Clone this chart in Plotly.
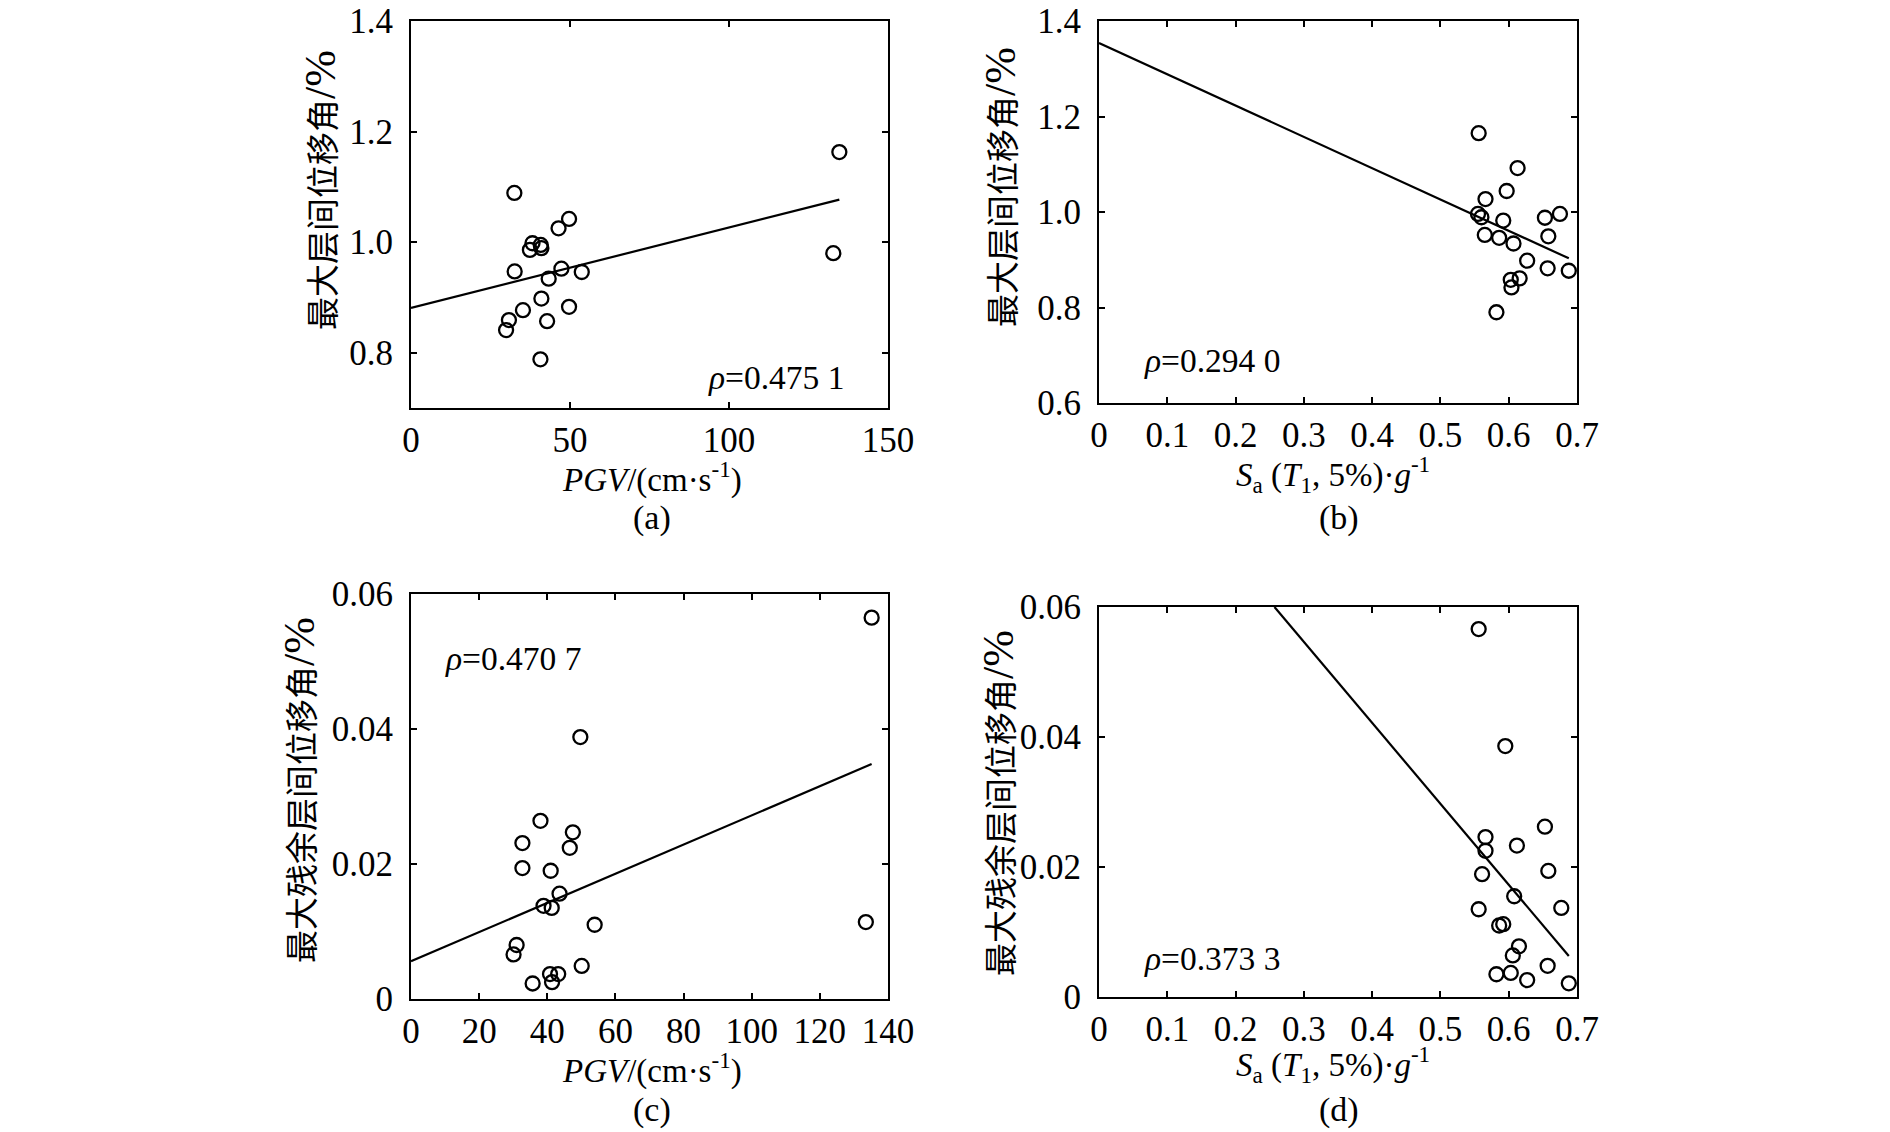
import plotly.graph_objects as go

W, H = 1890, 1132

# ---------------- data ----------------
pgv_a = [32.5, 134.7, 132.8, 49.7, 46.4, 38.2, 37.4, 40.8, 41.0, 32.6,
         47.3, 53.7, 43.3, 41.0, 35.2, 49.7, 30.8, 29.9, 42.8, 40.7]
idr_a = [1.089, 1.163, 0.980, 1.042, 1.025, 0.998, 0.986, 0.995, 0.989, 0.947,
         0.952, 0.946, 0.934, 0.898, 0.877, 0.883, 0.859, 0.841, 0.857, 0.788]
fit_a_x = [0, 134.7]
fit_a_y = [0.881, 1.077]

sa_b = [0.556, 0.613, 0.597, 0.566, 0.555, 0.560, 0.592, 0.653, 0.675, 0.565,
        0.586, 0.607, 0.658, 0.627, 0.657, 0.688, 0.603, 0.616, 0.604, 0.582]
idr_b = [1.165, 1.092, 1.044, 1.027, 0.996, 0.989, 0.982, 0.988, 0.996, 0.952,
         0.946, 0.934, 0.949, 0.898, 0.882, 0.877, 0.858, 0.861, 0.842, 0.790]
fit_b_x = [0, 0.688]
fit_b_y = [1.354, 0.903]

pgv_c = [135.2, 49.7, 38.0, 47.5, 32.7, 46.6, 32.7, 41.0, 43.6, 38.9,
         41.3, 53.9, 133.5, 31.0, 30.1, 50.1, 40.8, 43.2, 41.4, 35.7]
ridr_c = [0.0565, 0.0388, 0.0264, 0.0247, 0.0231, 0.0224, 0.0194, 0.0190, 0.0156, 0.0138,
          0.0135, 0.0110, 0.0114, 0.0080, 0.0066, 0.0049, 0.0037, 0.0037, 0.0025, 0.0023]
fit_c_x = [0, 135.2]
fit_c_y = [0.0056, 0.0348]

sa_d = [0.556, 0.595, 0.653, 0.566, 0.612, 0.566, 0.561, 0.658, 0.608, 0.556,
        0.677, 0.586, 0.592, 0.615, 0.606, 0.657, 0.582, 0.603, 0.627, 0.688]
ridr_d = [0.0566, 0.0386, 0.0262, 0.0246, 0.0233, 0.0225, 0.0189, 0.0194, 0.0155, 0.0135,
          0.0137, 0.0110, 0.0112, 0.0078, 0.0064, 0.0048, 0.0035, 0.0037, 0.0026, 0.0021]
fit_d_x = [0.257, 0.688]
fit_d_y = [0.060, 0.0063]

rho_labels = ["0.475 1", "0.294 0", "0.470 7", "0.373 3"]

pgv_ticks_a = [0, 50, 100, 150]
pgv_ticks_c = [0, 20, 40, 60, 80, 100, 120, 140]
sa_ticks = [0, 0.1, 0.2, 0.3, 0.4, 0.5, 0.6, 0.7]
sa_ticktext = ["0", "0.1", "0.2", "0.3", "0.4", "0.5", "0.6", "0.7"]
idr_ticks_a = [0.8, 1.0, 1.2, 1.4]
idr_ticktext_a = ["0.8", "1.0", "1.2", "1.4"]
idr_ticks_b = [0.6, 0.8, 1.0, 1.2, 1.4]
idr_ticktext_b = ["0.6", "0.8", "1.0", "1.2", "1.4"]
ridr_ticks = [0, 0.02, 0.04, 0.06]
ridr_ticktext = ["0", "0.02", "0.04", "0.06"]

ytitle_ab = "最大层间位移角<span style='font-size:44px'>/%</span>"
ytitle_cd = "最大残余层间位移角<span style='font-size:44px'>/%</span>"
xtitle_pgv = "<i>PGV</i>/(cm·s<sup>-1</sup>)"
xtitle_sa = "<i>S</i><sub>a</sub> (<i>T</i><sub>1</sub>, 5%)·<i>g</i><sup>-1</sup>"
panel_labels = ["(a)", "(b)", "(c)", "(d)"]

# ---------------- figure ----------------
FONT = "Liberation Serif"
CJK = "Liberation Serif, Noto Sans CJK SC"
FS = 35


def px(x):
    return x / W


def py(y):
    return 1 - y / H


fig = go.Figure()

panels = [
    dict(xa="x", ya="y", xs=pgv_a, ys=idr_a, fx=fit_a_x, fy=fit_a_y),
    dict(xa="x2", ya="y2", xs=sa_b, ys=idr_b, fx=fit_b_x, fy=fit_b_y),
    dict(xa="x3", ya="y3", xs=pgv_c, ys=ridr_c, fx=fit_c_x, fy=fit_c_y),
    dict(xa="x4", ya="y4", xs=sa_d, ys=ridr_d, fx=fit_d_x, fy=fit_d_y),
]
for p in panels:
    fig.add_trace(go.Scatter(x=p["fx"], y=p["fy"], mode="lines", xaxis=p["xa"], yaxis=p["ya"],
                             line=dict(color="black", width=2.2), showlegend=False, hoverinfo="skip"))
    fig.add_trace(go.Scatter(x=p["xs"], y=p["ys"], mode="markers", xaxis=p["xa"], yaxis=p["ya"],
                             marker=dict(symbol="circle-open", size=14, color="black",
                                         line=dict(width=2.3, color="black")),
                             showlegend=False, cliponaxis=False))

common = dict(showline=True, linecolor="black", linewidth=2, mirror="ticks", ticks="inside",
              ticklen=6, tickwidth=1.6, tickcolor="black", showgrid=False, zeroline=False,
              automargin=False,
              tickfont=dict(family=FONT, size=FS, color="black"))
XSO = 0
YSO = 9

# domains (pixel based)
xa_dom = [px(411), px(888)]
xb_dom = [px(1099), px(1577)]
ya_dom = [py(408), py(21)]
yb_dom = [py(403), py(21)]
yc_dom = [py(999), py(594)]
yd_dom = [py(997), py(607)]

fig.update_layout(
    template="none",
    width=W, height=H,
    margin=dict(l=0, r=0, t=0, b=0, autoexpand=False),
    paper_bgcolor="white", plot_bgcolor="white",
    font=dict(family=FONT, size=FS, color="black"),
    xaxis=dict(domain=xa_dom, range=[0, 150], tickvals=pgv_ticks_a, anchor="y",
               ticklabelstandoff=XSO, **common),
    yaxis=dict(domain=ya_dom, range=[0.7, 1.4], tickvals=idr_ticks_a, ticktext=idr_ticktext_a,
               anchor="x", ticklabelstandoff=YSO, **common),
    xaxis2=dict(domain=xb_dom, range=[0, 0.7], tickvals=sa_ticks, ticktext=sa_ticktext, anchor="y2",
                ticklabelstandoff=XSO, **common),
    yaxis2=dict(domain=yb_dom, range=[0.6, 1.4], tickvals=idr_ticks_b, ticktext=idr_ticktext_b,
                anchor="x2", ticklabelstandoff=YSO, **common),
    xaxis3=dict(domain=xa_dom, range=[0, 140], tickvals=pgv_ticks_c, anchor="y3",
                ticklabelstandoff=XSO, **common),
    yaxis3=dict(domain=yc_dom, range=[0, 0.06], tickvals=ridr_ticks, ticktext=ridr_ticktext,
                anchor="x3", ticklabelstandoff=YSO, **common),
    xaxis4=dict(domain=xb_dom, range=[0, 0.7], tickvals=sa_ticks, ticktext=sa_ticktext, anchor="y4",
                ticklabelstandoff=XSO, **common),
    yaxis4=dict(domain=yd_dom, range=[0, 0.06], tickvals=ridr_ticks, ticktext=ridr_ticktext,
                anchor="x4", ticklabelstandoff=YSO, **common),
)

anns = []


def txt(x, y, text, angle=0, size=FS, xanchor="center", family=FONT):
    anns.append(dict(x=px(x), y=py(y), xref="paper", yref="paper", text=text, showarrow=False,
                     textangle=angle, xanchor=xanchor, yanchor="middle",
                     font=dict(family=family, size=size, color="black")))


# y titles
txt(321, 190, ytitle_ab, angle=-90, size=33, family=CJK)
txt(1000, 187, ytitle_ab, angle=-90, size=33, family=CJK)
txt(299, 790, ytitle_cd, angle=-90, size=33, family=CJK)
txt(998, 803, ytitle_cd, angle=-90, size=33, family=CJK)
# x titles
txt(652, 477, xtitle_pgv, size=33)
txt(1333, 474, xtitle_sa, size=33)
txt(652, 1068, xtitle_pgv, size=33)
txt(1333, 1064, xtitle_sa, size=33)
# panel labels
txt(652, 518, panel_labels[0], size=34)
txt(1339, 518, panel_labels[1], size=34)
txt(652, 1110, panel_labels[2], size=34)
txt(1339, 1110, panel_labels[3], size=34)
# rho
txt(706, 378, "<i>ρ</i>=" + rho_labels[0], xanchor="left", size=33.5)
txt(1142, 360, "<i>ρ</i>=" + rho_labels[1], xanchor="left", size=33.5)
txt(443, 658, "<i>ρ</i>=" + rho_labels[2], xanchor="left", size=33.5)
txt(1142, 958, "<i>ρ</i>=" + rho_labels[3], xanchor="left", size=33.5)

fig.update_layout(annotations=anns)

fig.write_html("out.html")
